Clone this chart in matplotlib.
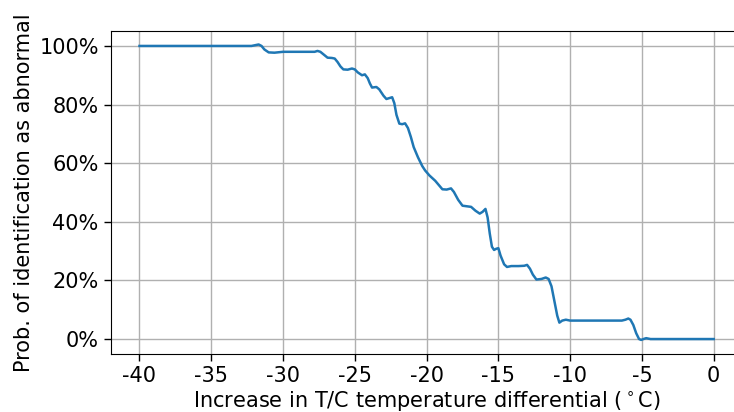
import matplotlib
matplotlib.use("Agg")
import matplotlib.pyplot as plt
from matplotlib.ticker import PercentFormatter

temp_diff = [-40, -32.2, -31.9, -31.7, -31.5, -31.3, -31.0, -30.6, -30.0, -27.8, -27.6,
             -27.4, -27.2, -26.9, -26.6, -26.4, -26.2, -26.0, -25.8, -25.5, -25.2,
             -25.0, -24.8, -24.5, -24.3, -24.1, -23.95, -23.8, -23.5, -23.3, -23.0,
             -22.8, -22.6, -22.4, -22.25, -22.1, -21.9, -21.7, -21.5, -21.3, -21.1,
             -20.9, -20.6, -20.3, -20.1, -19.8, -19.4, -18.9, -18.6, -18.3, -18.1,
             -17.8, -17.5, -17.2, -16.9, -16.6, -16.3, -16.1, -15.9, -15.75, -15.6,
             -15.45, -15.3, -15.15, -15.0, -14.85, -14.6, -14.4, -14.1, -13.6, -13.2,
             -13.0, -12.8, -12.6, -12.35, -12.0, -11.7, -11.5, -11.3, -11.1, -10.9,
             -10.75, -10.55, -10.3, -10.0, -6.4, -6.15, -5.95, -5.8, -5.6, -5.4,
             -5.2, -5.05, -4.9, -4.7, -4.4, 0]
prob_abnormal = [100, 100, 100.3, 100.5, 100.0, 98.8, 97.8, 97.7, 98.0, 98.0, 98.3,
                 98.0, 97.2, 96.0, 95.9, 95.7, 94.5, 93.0, 92.0, 91.9, 92.3,
                 92.0, 91.0, 90.0, 90.3, 89.0, 87.2, 85.8, 86.0, 85.2, 83.0,
                 81.9, 82.2, 82.5, 80.5, 76.5, 73.5, 73.3, 73.6, 72.0, 69.0,
                 65.5, 62.0, 59.0, 57.5, 55.8, 54.0, 51.1, 51.0, 51.4, 50.2,
                 47.5, 45.5, 45.3, 45.1, 43.8, 42.8, 43.4, 44.4, 41.5, 36.0,
                 31.5, 30.4, 30.8, 31.0, 28.5, 25.5, 24.6, 24.9, 24.9, 25.0,
                 25.3, 24.0, 22.0, 20.3, 20.5, 21.0, 20.5, 18.0, 13.0, 8.0,
                 5.6, 6.3, 6.6, 6.3, 6.3, 6.6, 7.0, 6.6, 4.8, 2.0,
                 0.0, -0.3, 0.0, 0.3, 0.0, 0.0]
xticks = [-40, -35, -30, -25, -20, -15, -10, -5, 0]
yticks = [0, 20, 40, 60, 80, 100]

fig = plt.figure(figsize=(7.34, 4.12), dpi=100)
ax = fig.add_axes([110.5 / 734, 1 - 354 / 412, (742.7 - 110.5) / 734, (354 - 31) / 412])
ax.plot(temp_diff, prob_abnormal, color="#1f77b4", linewidth=1.8)
ax.set_xlim(-42.02, 2.02)
ax.set_ylim(-5.1, 105.1)
ax.set_xticks(xticks)
ax.set_xticklabels([str(t) for t in xticks])
ax.set_yticks(yticks)
ax.yaxis.set_major_formatter(PercentFormatter(100, decimals=0))
ax.grid(True, color="#b0b0b0", linewidth=1.0)
ax.set_axisbelow(True)
ax.tick_params(labelsize=15, length=5, width=1)
ax.set_xlabel(r"Increase in T/C temperature differential ($^\circ$C)", fontsize=15, labelpad=2)
ax.set_ylabel("Prob. of identification as abnormal", fontsize=15)
fig.savefig("out.png", dpi=100)
